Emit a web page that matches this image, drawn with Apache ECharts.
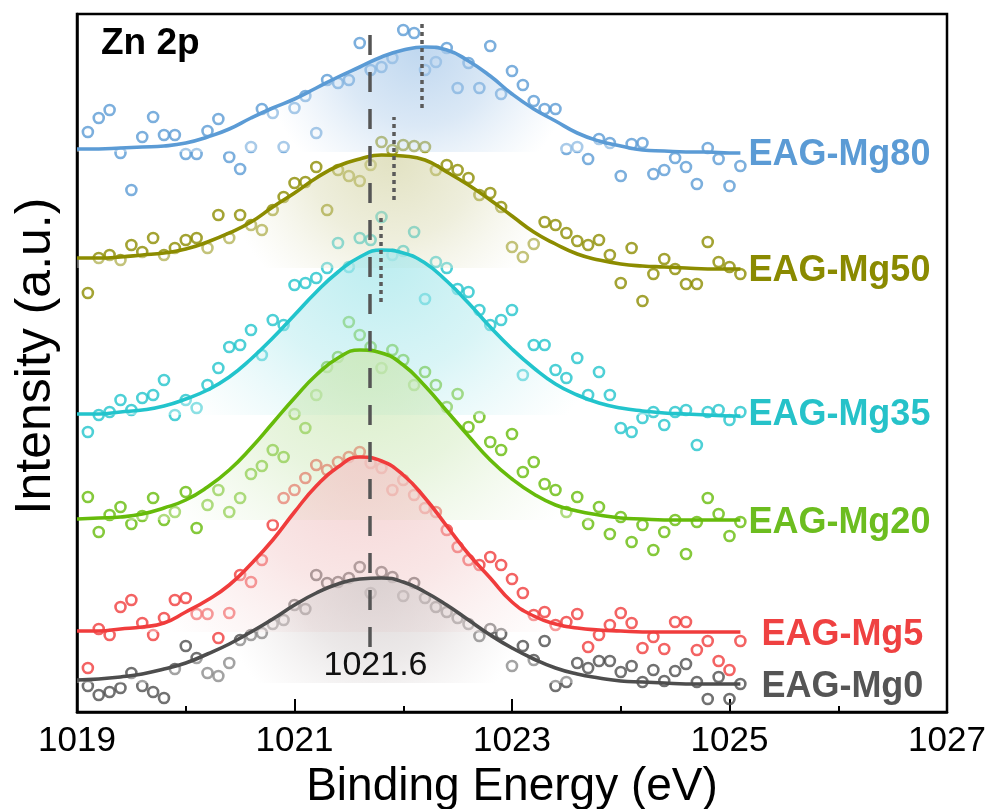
<!DOCTYPE html>
<html><head><meta charset="utf-8">
<script src="https://cdn.jsdelivr.net/npm/echarts@6/dist/echarts.min.js"></script>
<style>html,body{margin:0;padding:0;background:#fff}#c{width:987px;height:809px}</style>
</head><body><div id="c"></div>
<script>
// ---------- data ----------
const xTicks = [1019, 1021, 1023, 1025, 1027];
const energies = [1019.1,1019.2,1019.3,1019.4,1019.5,1019.6,1019.7,1019.8,1019.9,1020.0,
  1020.1,1020.2,1020.3,1020.4,1020.5,1020.6,1020.7,1020.8,1020.9,1021.0,
  1021.1,1021.2,1021.3,1021.4,1021.5,1021.6,1021.7,1021.8,1021.9,1022.0,
  1022.1,1022.2,1022.3,1022.4,1022.5,1022.6,1022.7,1022.8,1022.9,1023.0,
  1023.1,1023.2,1023.3,1023.4,1023.5,1023.6,1023.7,1023.8,1023.9,1024.0,
  1024.1,1024.2,1024.3,1024.4,1024.5,1024.6,1024.7,1024.8,1024.9,1025.0,1025.1];
const fitEnergies = [1019.0,1019.2,1019.4,1019.6,1019.8,1020.0,1020.2,1020.4,1020.6,1020.8,
  1021.0,1021.2,1021.4,1021.6,1021.8,1022.0,1022.2,1022.4,1022.6,1022.8,
  1023.0,1023.2,1023.4,1023.6,1023.8,1024.0,1024.2,1024.4,1024.6,1024.8,1025.0,1025.1];

const names = ['EAG-Mg80','EAG-Mg50','EAG-Mg35','EAG-Mg20','EAG-Mg5','EAG-Mg0'];

const mg80Points = [580,594,602,559,522,575,595,577,577,558, 558,581,593,555,543,565,603,599,565,604,
  616,579,632,629,632,669,642,645,654,682, 679,642,650,664,624,649,624,666,618,641,
  627,611,603,603,563,565,553,573,569,536, 568,569,538,542,554,545,528,564,553,526, 546];
const mg50Points = [419,454,457,452,467,460,474,457,464,472, 474,464,497,474,497,487,482,502,515,529,
  530,545,502,542,536,531,547,570,562,567, 566,565,542,547,542,534,517,519,505,465,
  455,468,490,487,479,471,467,472,457,429, 464,411,438,453,443,428,428,470,450,445, 438];
const mg35Points = [280,297,300,312,302,314,317,332,297,312, 304,327,344,365,367,382,357,392,387,427,
  429,434,444,469,445,474,472,495,457,461, 480,413,450,444,423,420,402,387,392,402,
  337,367,367,342,334,354,317,340,317,284, 280,294,300,287,300,302,267,300,302,292, 300];
const mg20Points = [215,180,197,205,188,196,214,192,200,220, 184,207,222,200,214,238,246,262,255,298,
  284,317,345,355,390,377,365,344,362,352, 327,340,327,305,318,285,295,270,262,278,
  240,250,228,222,200,215,188,205,178,195, 170,187,162,180,192,158,190,214,198,176, 190];
const mg5Points = [44,83,77,105,112,89,77,94,112,114, 98,98,74,99,137,130,152,187,214,222,
  234,247,242,250,255,260,249,244,222,232, 217,204,200,182,165,152,147,155,147,133,
  119,97,100,87,90,98,65,77,87,99, 89,64,75,63,90,90,62,71,51,42, 71];
const mg0Points = [26,17,20,24,39,26,20,14,43,66, 54,39,36,49,72,77,79,88,92,107,
  103,137,129,130,134,145,119,140,135,116, 129,114,105,100,94,88,76,83,78,46,
  66,52,71,26,30,49,44,51,51,40, 46,30,42,31,41,48,30,13,35,13, 28];

const mg80Fit = [563,563,564,565,566,569,575,583,594,604,613,624,635,645,655,662,665,662,651,636,
  618,603,591,579,571,566,562,561,560,560,559,559];
const mg50Fit = [454,454,455,457,459,463,470,479,490,505,519,534,546,553,557,556,552,540,527,512,
  496,480,468,458,452,448,446,445,444,443,443,443];
const mg35Fit = [298,298,300,302,306,313,322,335,353,374,397,420,440,455,462,459,449,431,409,385,
  363,344,328,317,309,304,301,299,298,297,296,296];
const mg20Fit = [193,194,195,198,204,212,225,242,264,289,314,337,354,362,359,347,326,301,276,252,
  233,218,207,201,197,194,193,192,192,192,192,192];
const mg5Fit  = [81,81,83,85,89,100,112,127,148,172,200,226,245,255,251,237,214,186,158,134,
  110,96,88,84,82,81,80,80,80,80,80,80];
const mg0Fit  = [32,33,35,38,43,49,58,68,80,93,107,119,128,133,134,130,120,107,92,77,
  64,53,44,38,34,31,30,29,28,28,28,28];

const baselines = [560, 444, 297, 192, 80, 29];
const peakCenters = [1022.15, 1021.9, 1021.8, 1021.65, 1021.65, 1021.75];

const refEnergy = 1021.69;      // dashed reference line
const refLabel = '1021.6';
const refSpan = [65, 690];
const shiftEnergies = [1022.17, 1021.91, 1021.79];  // dotted peak markers
const shiftSpans = [[604, 690], [512, 595], [410, 497]];

// ---------- styles ----------
const styles = [
  {color:'#5b9bd5', label:'#5b9bd5', tint:[175,205,235], dist:8, dy:2},
  {color:'#8c8c00', label:'#8a8a00', tint:[218,218,178], dist:8, dy:2},
  {color:'#22c4cc', label:'#26c2c9', tint:[170,232,236], dist:8, dy:-1},
  {color:'#66bb0a', label:'#6cbd1f', tint:[204,232,182], dist:8, dy:3},
  {color:'#f03c3c', label:'#ef4141', tint:[242,200,200], dist:21, dy:3},
  {color:'#4d4d4d', label:'#555555', tint:[212,205,205], dist:21, dy:3}
];
const pointSets = [mg80Points, mg50Points, mg35Points, mg20Points, mg5Points, mg0Points];
const fitSets = [mg80Fit, mg50Fit, mg35Fit, mg20Fit, mg5Fit, mg0Fit];
const FONT = 'Liberation Sans, Arial, Helvetica, sans-serif';
const eMin = fitEnergies[0], eMax = fitEnergies[fitEnergies.length - 1];

const series = [];
names.forEach((n, i) => {
  const st = styles[i];
  series.push({
    type:'scatter', name:n, z:1, silent:true,
    data: energies.map((e, k) => [e, pointSets[i][k]]),
    symbol:'circle', symbolSize:10,
    itemStyle:{color:'rgba(255,255,255,0)', borderColor:st.color, borderWidth:2.6}
  });
});
names.forEach((n, i) => {
  const st = styles[i];
  const [r, g, b] = st.tint;
  series.push({
    type:'line', z:2, silent:true, smooth:0.5, showSymbol:false,
    data: fitEnergies.map((e, k) => [e, fitSets[i][k]]),
    lineStyle:{width:0, opacity:0},
    areaStyle:{
      origin: baselines[i], opacity:1,
      color: new echarts.graphic.RadialGradient((peakCenters[i] - eMin) / (eMax - eMin), 0, 1.5, [
        {offset:0, color:`rgba(${r},${g},${b},0.8)`},
        {offset:0.5, color:`rgba(${r},${g},${b},0.45)`},
        {offset:1, color:'rgba(255,255,255,0.35)'}
      ])
    }
  });
});
names.forEach((n, i) => {
  const st = styles[i];
  series.push({
    type:'line', z:3, silent:true, smooth:0.5, showSymbol:false, name:n,
    data: fitEnergies.map((e, k) => [e, fitSets[i][k]]),
    lineStyle:{color:st.color, width:3.6},
    endLabel:{show:true, formatter:n, color:st.label, fontSize:36, fontWeight:'bold',
      fontFamily:FONT, distance:st.dist, offset:[0, st.dy]}
  });
});
const markData = [
  [{coord:[refEnergy, refSpan[0]], lineStyle:{type:[20,17], width:3.5, color:'#555'},
    label:{show:true, position:'start', formatter:refLabel, fontSize:34, color:'#111',
      fontFamily:FONT, distance:2, padding:[0,0,0,12]}},
   {coord:[refEnergy, refSpan[1]]}]
];
shiftEnergies.forEach((e, i) => {
  markData.push([{coord:[e, shiftSpans[i][0]], lineStyle:{type:[4,4], width:3.5, color:'#5a5a5a'},
    label:{show:false}}, {coord:[e, shiftSpans[i][1]]}]);
});
series.push({
  type:'scatter', z:4, silent:true, data:[],
  markLine:{symbol:['none','none'], silent:true, animation:false, data:markData}
});

const chart = echarts.init(document.getElementById('c'));
chart.setOption({
  animation:false,
  backgroundColor:'#fff',
  title:{text:'Zn 2p', left:96, top:20,
    textStyle:{fontSize:37, fontWeight:'bold', color:'#000', fontFamily:FONT}},
  grid:{left:77, right:40, top:14, bottom:97, show:true, borderColor:'#000', borderWidth:2.5,
    backgroundColor:'rgba(0,0,0,0)', containLabel:false, outerBoundsMode:'none'},
  xAxis:{type:'value', min:xTicks[0], max:xTicks[xTicks.length-1], interval:2,
    name:'Binding Energy (eV)', nameLocation:'middle', nameGap:51,
    nameTextStyle:{fontSize:46, color:'#000', fontFamily:FONT},
    axisLine:{show:true, lineStyle:{color:'#000', width:2.5}},
    axisTick:{show:true, inside:true, length:13, lineStyle:{color:'#000', width:2}},
    minorTick:{show:true, splitNumber:2, length:6, lineStyle:{color:'#000', width:2}},
    axisLabel:{fontSize:35, color:'#000', fontFamily:FONT, margin:12,
      formatter: v => String(v)},
    splitLine:{show:false}},
  yAxis:{type:'value', min:0, max:698,
    name:'Intensity (a.u.)', nameLocation:'middle', nameGap:16,
    nameTextStyle:{fontSize:50, color:'#000', fontFamily:FONT, padding:[0,0,0,14]},
    axisLine:{show:true, lineStyle:{color:'#000', width:2.5}},
    axisTick:{show:false}, axisLabel:{show:false}, splitLine:{show:false}},
  series: series
});
</script></body></html>
